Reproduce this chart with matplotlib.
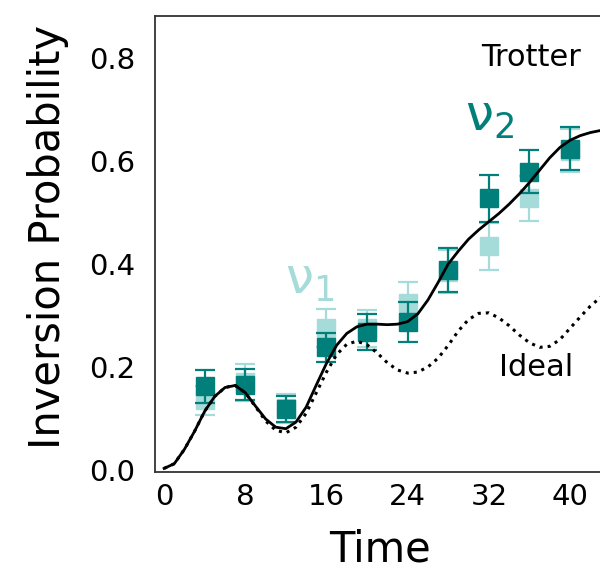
import matplotlib
matplotlib.use("Agg")
from matplotlib import pyplot as plt

plt.rcParams['mathtext.default'] = 'regular'

DARK = '#007f7b'
LIGHT = '#a5dbd9'

t_meas = [4, 8, 12, 16, 20, 24, 28, 32, 36, 40]
p_nu2 = [0.162, 0.165, 0.118, 0.238, 0.268, 0.288, 0.388, 0.527, 0.579, 0.624]
err_nu2 = [0.032, 0.030, 0.025, 0.028, 0.035, 0.039, 0.043, 0.045, 0.042, 0.041]
p_nu1 = [0.135, 0.170, 0.120, 0.275, 0.275, 0.324, 0.385, 0.434, 0.527, 0.620]
err_nu1 = [0.028, 0.036, 0.028, 0.037, 0.036, 0.040, 0.042, 0.046, 0.043, 0.042]

# simulated curves at integer times
t_curve = list(range(0, 45))
p_trotter = [0.003, 0.012, 0.040, 0.075, 0.114, 0.143, 0.160, 0.164, 0.150, 0.124,
             0.099, 0.083, 0.080, 0.093, 0.122, 0.165, 0.207, 0.242, 0.265, 0.278,
             0.283, 0.283, 0.282, 0.283, 0.288, 0.303, 0.330, 0.364, 0.400, 0.425,
             0.448, 0.466, 0.482, 0.498, 0.516, 0.536, 0.558, 0.582, 0.606, 0.626,
             0.640, 0.649, 0.655, 0.659, 0.661]
p_ideal = [0.003, 0.012, 0.040, 0.075, 0.114, 0.143, 0.160, 0.164, 0.150, 0.123,
           0.095, 0.077, 0.072, 0.083, 0.110, 0.150, 0.190, 0.224, 0.244, 0.250,
           0.243, 0.227, 0.208, 0.194, 0.188, 0.190, 0.200, 0.217, 0.242, 0.270,
           0.292, 0.304, 0.305, 0.295, 0.280, 0.262, 0.247, 0.238, 0.240, 0.253,
           0.275, 0.297, 0.318, 0.335, 0.345]

fig = plt.figure(figsize=(6, 5.77), dpi=100)
ax = fig.add_axes([0.2583, 0.182, 0.80, 0.79])

ax.errorbar(t_meas, p_nu1, yerr=err_nu1, fmt='s', color=LIGHT, ms=13,
            elinewidth=1.6, capsize=7, capthick=1.6, zorder=2)
ax.errorbar(t_meas, p_nu2, yerr=err_nu2, fmt='s', color=DARK, ms=13,
            elinewidth=1.6, capsize=7, capthick=1.6, zorder=3)

ax.plot(t_curve, p_ideal, ':', color='black', lw=2.2, zorder=4)
ax.plot(t_curve, p_trotter, '-', color='black', lw=2.0, zorder=5)

ax.text(36.2, 0.80, 'Trotter', fontsize=22, ha='center', va='center')
ax.text(36.7, 0.198, 'Ideal', fontsize=22, ha='center', va='center')
ax.text(32.1, 0.685, r'$\nu_2$', fontsize=36, color=DARK, ha='center', va='center')
ax.text(14.4, 0.369, r'$\nu_1$', fontsize=36, color=LIGHT, ha='center', va='center')

ax.set_xlim(-0.9, 46.4)
ax.set_ylim(-0.004, 0.881)
ax.set_xticks([0, 8, 16, 24, 32, 40])
ax.set_yticks([0.0, 0.2, 0.4, 0.6, 0.8])
ax.tick_params(axis='both', length=0, labelsize=21)
ax.tick_params(axis='x', pad=8)
ax.tick_params(axis='y', pad=14)
for s in ax.spines.values():
    s.set_linewidth(1.3)
    s.set_color('#333333')

ax.set_xlabel('Time', fontsize=30)
ax.set_ylabel('Inversion Probability', fontsize=30)
ax.xaxis.set_label_coords(0.469, -0.125)
ax.yaxis.set_label_coords(-0.179, 0.515)

fig.savefig('out.png', dpi=100)
